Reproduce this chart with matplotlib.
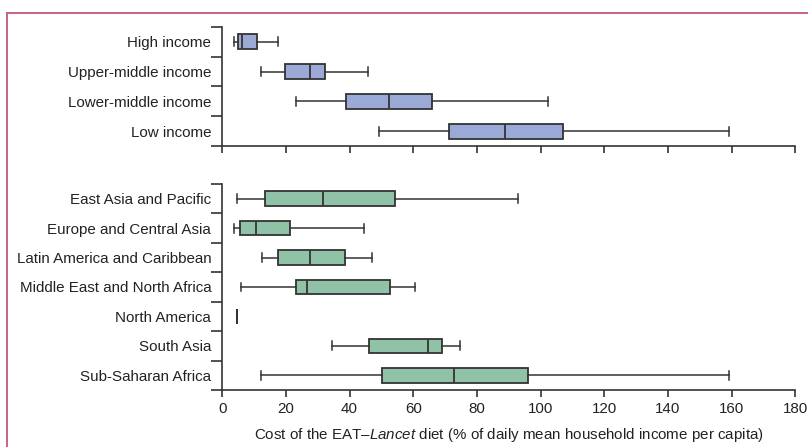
import matplotlib
matplotlib.use("Agg")
import matplotlib.pyplot as plt
from matplotlib.lines import Line2D

# ------------------------------
# Data
# ------------------------------
income_groups = ["High income", "Upper-middle income", "Lower-middle income", "Low income"]
income_whislo = [3.6, 12.3, 23.0, 49.3]
income_q1 = [4.8, 19.7, 38.8, 71.2]
income_med = [6.1, 27.5, 52.3, 88.9]
income_q3 = [11.0, 32.3, 65.9, 106.9]
income_whishi = [17.4, 45.9, 102.2, 159.3]

regions = ["East Asia and Pacific", "Europe and Central Asia", "Latin America and Caribbean",
           "Middle East and North Africa", "North America", "South Asia", "Sub-Saharan Africa"]
region_whislo = [4.7, 3.7, 12.5, 5.8, 4.5, 34.6, 12.1]
region_q1 = [13.4, 5.7, 17.5, 23.2, 4.5, 46.1, 50.1]
region_med = [31.6, 10.5, 27.4, 26.7, 4.5, 64.5, 72.8]
region_q3 = [54.4, 21.2, 38.7, 52.7, 4.5, 69.1, 96.1]
region_whishi = [92.8, 44.4, 47.0, 60.6, 4.5, 74.8, 159.3]

xticks = [0, 20, 40, 60, 80, 100, 120, 140, 160, 180]

BLUE = "#9ba9d6"
GREEN = "#90c2a7"
EDGE = "#333333"
FRAME = "#c9627c"
FS = 10.9

plt.rcParams["font.family"] = ["Liberation Sans", "DejaVu Sans"]
plt.rcParams["mathtext.fontset"] = "custom"
plt.rcParams["mathtext.rm"] = "Liberation Sans"
plt.rcParams["mathtext.it"] = "Liberation Sans:italic"
plt.rcParams["font.size"] = FS


def draw_panel(ax, labels, lo, q1, med, q3, hi, color):
    stats = []
    for i in range(len(labels)):
        stats.append({"whislo": lo[i], "q1": q1[i], "med": med[i],
                      "q3": q3[i], "whishi": hi[i], "fliers": []})
    pos = list(range(len(labels)))
    ax.bxp(stats, positions=pos, vert=False, widths=0.5, capwidths=0.3,
           patch_artist=True, showfliers=False,
           boxprops=dict(facecolor=color, edgecolor=EDGE, linewidth=1.3),
           medianprops=dict(color=EDGE, linewidth=1.3),
           whiskerprops=dict(color=EDGE, linewidth=1.1),
           capprops=dict(color=EDGE, linewidth=1.1))
    n = len(labels)
    ax.set_ylim(n - 0.5, -0.5)
    ax.set_xlim(0, 180)
    # boundaries as major ticks (bracket look), names as minor tick labels
    ax.set_yticks([i - 0.5 for i in range(n + 1)])
    ax.set_yticklabels([])
    ax.set_yticks(pos, minor=True)
    ax.set_yticklabels(labels, minor=True)
    ax.tick_params(axis="y", which="major", length=8, width=1.2, color=EDGE)
    ax.tick_params(axis="y", which="minor", length=0, pad=8, labelsize=FS, labelcolor="#222222")
    ax.set_xticks(xticks)
    ax.tick_params(axis="x", length=5, width=1.2, color=EDGE, labelsize=FS, labelcolor="#222222")
    for s in ["top", "right"]:
        ax.spines[s].set_visible(False)
    for s in ["left", "bottom"]:
        ax.spines[s].set_linewidth(1.2)
        ax.spines[s].set_color(EDGE)


fig = plt.figure(figsize=(8.08, 4.47), dpi=100)
ax1 = fig.add_axes([0.2751, 0.6734, 0.7092, 0.2662])
ax2 = fig.add_axes([0.2751, 0.1275, 0.7092, 0.4609])

draw_panel(ax1, income_groups, income_whislo, income_q1, income_med, income_q3, income_whishi, BLUE)
ax1.set_xticklabels([])

draw_panel(ax2, regions, region_whislo, region_q1, region_med, region_q3, region_whishi, GREEN)
ax2.set_xlabel(r"Cost of the EAT–$\mathit{Lancet}$ diet (% of daily mean household income per capita)",
               fontsize=FS, color="#222222", labelpad=7)

# pink frame on top and left
fig.add_artist(Line2D([7 / 808, 1], [1 - 13 / 447, 1 - 13 / 447], color=FRAME, linewidth=1.4,
                      transform=fig.transFigure))
fig.add_artist(Line2D([7 / 808, 7 / 808], [0, 1 - 13 / 447], color=FRAME, linewidth=1.4,
                      transform=fig.transFigure))

fig.savefig("out.png", dpi=100)
